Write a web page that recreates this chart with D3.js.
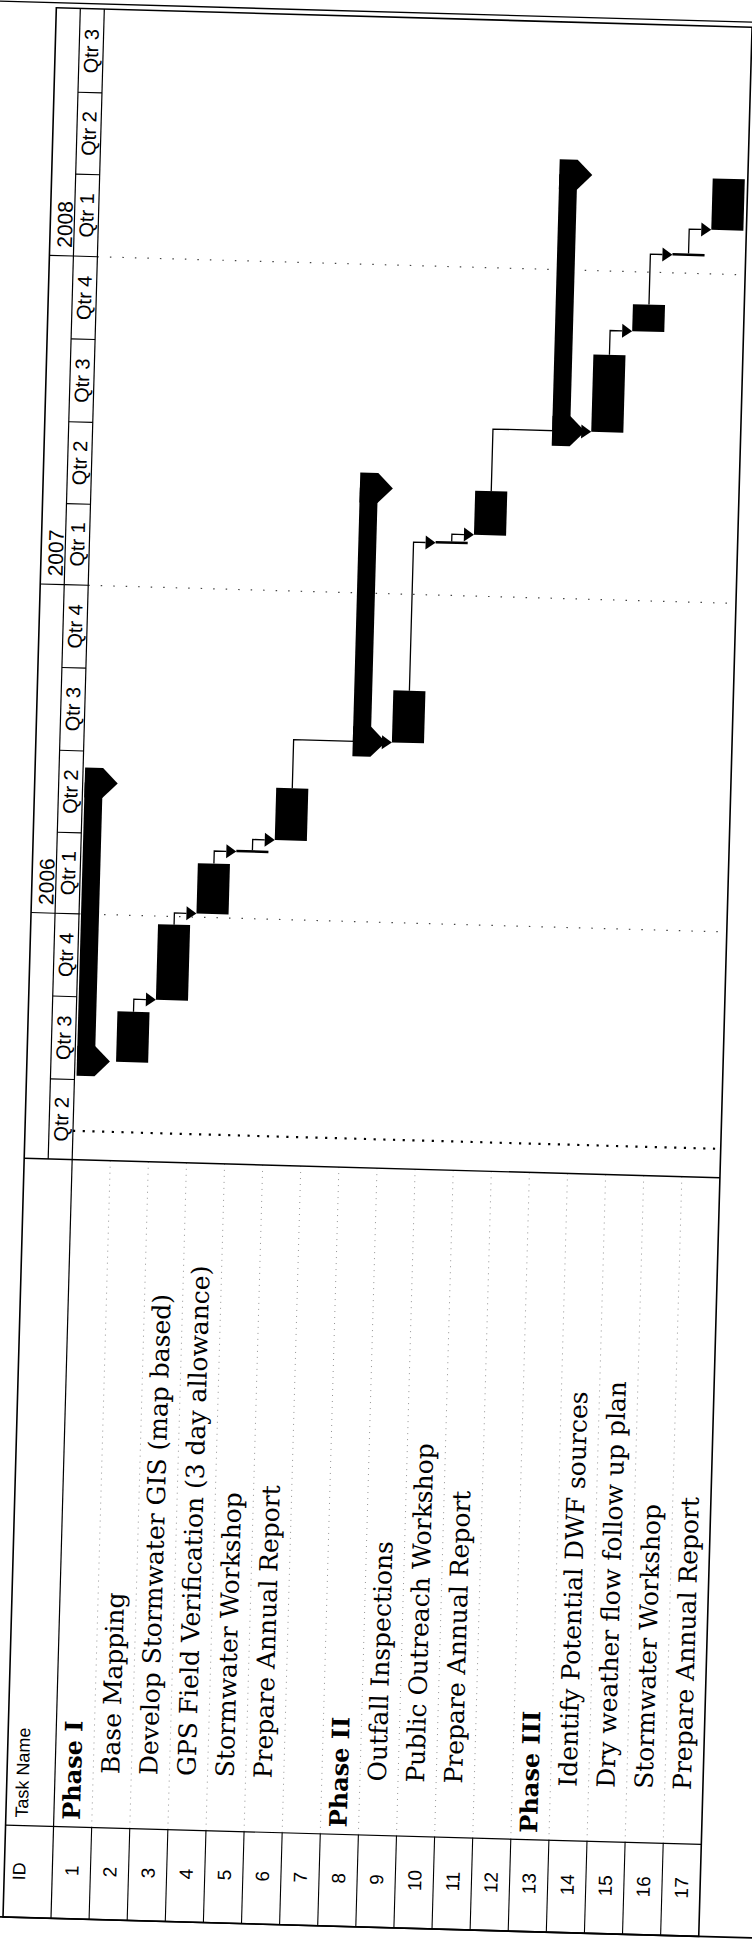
<!DOCTYPE html>
<html>
<head>
<meta charset="utf-8">
<script src="https://cdn.jsdelivr.net/npm/d3@7"></script>
<style>
  body { margin: 0; background: #fff; }
  svg { display: block; }
</style>
</head>
<body>
<div id="gantt"></div>
<script>
// ----------------------------------------------------
// Data (read off the scanned project schedule)
// ----------------------------------------------------
const viewStart = '2005-04-03';
const viewEnd = '2008-10-01';
const statusDate = '2005-05-05';

const quarterStarts = ['2005-04-01','2005-07-01','2005-10-01','2006-01-01','2006-04-01','2006-07-01','2006-10-01',
                       '2007-01-01','2007-04-01','2007-07-01','2007-10-01','2008-01-01','2008-04-01','2008-07-01'];
const quarterEnds   = ['2005-07-01','2005-10-01','2006-01-01','2006-04-01','2006-07-01','2006-10-01','2007-01-01',
                       '2007-04-01','2007-07-01','2007-10-01','2008-01-01','2008-04-01','2008-07-01','2008-10-01'];
const quarterLabels = ['Qtr 2','Qtr 3','Qtr 4','Qtr 1','Qtr 2','Qtr 3','Qtr 4',
                       'Qtr 1','Qtr 2','Qtr 3','Qtr 4','Qtr 1','Qtr 2','Qtr 3'];

const yearStarts = ['2006-01-01','2007-01-01','2008-01-01'];
const yearLabels = ['2006','2007','2008'];

const taskIds = [1,2,3,4,5,6,7,8,9,10,11,12,13,14,15,16,17];
const taskNames = [
  'Phase I', 'Base Mapping', 'Develop Stormwater GIS (map based)', 'GPS Field Verification (3 day allowance)',
  'Stormwater Workshop', 'Prepare Annual Report', '',
  'Phase II', 'Outfall Inspections', 'Public Outreach Workshop', 'Prepare Annual Report', '',
  'Phase III', 'Identify Potential DWF sources', 'Dry weather flow follow up plan', 'Stormwater Workshop',
  'Prepare Annual Report'
];
const taskKinds = ['summary','task','task','task','task','task','blank',
                   'summary','task','task','task','blank',
                   'summary','task','task','task','task'];
const taskStarts = ['2005-07-22','2005-07-22','2005-09-30','2006-01-05','2006-03-16','2006-03-30', null,
                    '2006-07-20','2006-07-20','2007-02-28','2007-03-10', null,
                    '2007-07-06','2007-07-06','2007-10-27','2008-01-21','2008-02-19'];
const taskEnds   = ['2006-05-27','2005-09-16','2005-12-23','2006-03-02','2006-03-18','2006-05-27', null,
                    '2007-04-28','2006-09-16','2007-03-02','2007-04-28', null,
                    '2008-04-16','2007-09-30','2007-11-26','2008-01-23','2008-04-16'];

// finish-to-start links [predecessor, successor]
const links = [[2,3],[3,4],[4,5],[5,6],[6,9],[9,10],[10,11],[11,14],[14,15],[15,16],[16,17]];

// ----------------------------------------------------
// Layout (the page is a slightly skewed, rotated print)
// ----------------------------------------------------
const width = 752, height = 1941;
const frameW = 696, frameH = 1910;
const hdrW = 48, yearW = 24;
const chartBottom = 1151, idTop = 1818;
const sans = '"Liberation Sans", Arial, sans-serif';
const serif = '"DejaVu Serif", "Liberation Serif", serif';

const parse = d3.timeParse('%Y-%m-%d');

const tasks = taskIds.map((id, i) => ({
  id, name: taskNames[i], kind: taskKinds[i],
  start: taskStarts[i] ? parse(taskStarts[i]) : null,
  end: taskEnds[i] ? parse(taskEnds[i]) : null
}));
const byId = new Map(tasks.map(t => [t.id, t]));

const x = d3.scaleBand().domain(taskIds).range([hdrW, frameW]).padding(0);
const y = d3.scaleTime()
  .domain([parse(viewStart), parse(viewEnd)])
  .range([chartBottom, 1]);
const yc = d => Math.max(1, Math.min(chartBottom, y(d)));
const bw = x.bandwidth();

const svg = d3.select('#gantt').append('svg')
  .attr('width', width)
  .attr('height', height);

svg.append('rect').attr('width', width).attr('height', height).attr('fill', '#fff');

const g = svg.append('g')
  .attr('transform', 'rotate(1.6 3 1917) translate(3 7)');

// ---- gridlines -------------------------------------
g.append('g')
  .attr('stroke', '#444').attr('stroke-width', 1.2).attr('stroke-dasharray', '1.5 11')
  .selectAll('line').data(yearStarts).enter().append('line')
    .attr('x1', hdrW).attr('x2', frameW)
    .attr('y1', d => y(parse(d))).attr('y2', d => y(parse(d)));

g.append('line')
  .attr('x1', hdrW).attr('x2', frameW)
  .attr('y1', y(parse(statusDate))).attr('y2', y(parse(statusDate)))
  .attr('stroke', '#000').attr('stroke-width', 2.2).attr('stroke-dasharray', '2.2 7.5');

// dotted row separators in the task name column
g.append('g')
  .attr('stroke', '#888').attr('stroke-width', 0.9).attr('stroke-dasharray', '1 5')
  .selectAll('line').data(taskIds.slice(1)).enter().append('line')
    .attr('x1', d => x(d)).attr('x2', d => x(d))
    .attr('y1', chartBottom).attr('y2', idTop);

// ---- bars ------------------------------------------
const bars = g.append('g').attr('fill', '#000');

const summary = tasks.filter(t => t.kind === 'summary');
bars.selectAll('rect.sum').data(summary).enter().append('rect')
  .attr('class', 'sum')
  .attr('x', d => x(d.id) + 2).attr('width', 18)
  .attr('y', d => y(d.end)).attr('height', d => y(d.start) - y(d.end));

const caps = [];
summary.forEach(d => { caps.push({id: d.id, t: d.start}); caps.push({id: d.id, t: d.end}); });
bars.selectAll('path.cap').data(caps).enter().append('path')
  .attr('class', 'cap')
  .attr('d', d => {
    const r = x(d.id), c = y(d.t);
    return `M${r+2},${c-15} L${r+20},${c-15} L${r+35},${c} L${r+20},${c+15} L${r+2},${c+15} Z`;
  });

const normal = tasks.filter(t => t.kind === 'task');
bars.selectAll('rect.task').data(normal).enter().append('rect')
  .attr('class', 'task')
  .attr('x', d => x(d.id) + 3).attr('width', bw - 6)
  .attr('y', d => y(d.end))
  .attr('height', d => Math.max(2.5, y(d.start) - y(d.end)));

// ---- links -----------------------------------------
const arrowL = 10, arrowH = 7;
const lk = g.append('g');
lk.selectAll('path.link').data(links).enter().append('path')
  .attr('fill', 'none').attr('stroke', '#000').attr('stroke-width', 1.3)
  .attr('d', ([p, s]) => {
    const a = byId.get(p), b = byId.get(s);
    const cx = x(p) + bw / 2;
    const ys = y(b.start);
    const tip = x(s) + 3;
    return `M${cx},${y(a.end)} V${ys} H${tip - arrowL}`;
  });
lk.selectAll('path.arrow').data(links).enter().append('path')
  .attr('fill', '#000')
  .attr('d', ([p, s]) => {
    const b = byId.get(s);
    const ys = y(b.start), tip = x(s) + 3;
    return `M${tip},${ys} L${tip - arrowL},${ys - arrowH} L${tip - arrowL},${ys + arrowH} Z`;
  });

// ---- table and timescale frame ---------------------
const frame = g.append('g').attr('stroke', '#000').attr('fill', 'none');
frame.append('rect').attr('width', frameW).attr('height', frameH).attr('stroke-width', 1.6);
frame.append('line').attr('x1', -70).attr('x2', 760).attr('y1', -5).attr('y2', -5).attr('stroke-width', 1.4);
frame.append('line').attr('x1', -20).attr('x2', 760).attr('y1', frameH).attr('y2', frameH).attr('stroke-width', 1.6);
frame.append('line').attr('x1', 0).attr('x2', frameW).attr('y1', chartBottom).attr('y2', chartBottom).attr('stroke-width', 1.4);
frame.append('line').attr('x1', 0).attr('x2', frameW).attr('y1', idTop).attr('y2', idTop).attr('stroke-width', 1.2);
frame.append('line').attr('x1', hdrW).attr('x2', hdrW).attr('y1', 0).attr('y2', frameH).attr('stroke-width', 1.2);
frame.append('line').attr('x1', yearW).attr('x2', yearW).attr('y1', 0).attr('y2', chartBottom).attr('stroke-width', 1.2);

frame.selectAll('line.q').data(quarterStarts.filter(d => y(parse(d)) < chartBottom)).enter().append('line')
  .attr('class', 'q').attr('stroke-width', 1.1)
  .attr('x1', yearW).attr('x2', hdrW)
  .attr('y1', d => y(parse(d))).attr('y2', d => y(parse(d)));
frame.selectAll('line.yr').data(yearStarts).enter().append('line')
  .attr('class', 'yr').attr('stroke-width', 1.1)
  .attr('x1', 0).attr('x2', yearW)
  .attr('y1', d => y(parse(d))).attr('y2', d => y(parse(d)));
frame.selectAll('line.id').data(taskIds.slice(1)).enter().append('line')
  .attr('class', 'id').attr('stroke-width', 1.1)
  .attr('x1', d => x(d)).attr('x2', d => x(d))
  .attr('y1', idTop).attr('y2', frameH);

// ---- text ------------------------------------------
const txt = g.append('g').attr('fill', '#000');

txt.selectAll('text.year').data(yearLabels).enter().append('text')
  .attr('transform', (d, i) => `translate(22,${y(parse(yearStarts[i])) - 8}) rotate(-90)`)
  .style('font', `21px ${sans}`)
  .text(d => d);

txt.selectAll('text.qtr').data(quarterLabels).enter().append('text')
  .attr('transform', (d, i) => {
    const mid = (yc(parse(quarterStarts[i])) + yc(parse(quarterEnds[i]))) / 2;
    return `translate(43,${mid}) rotate(-90)`;
  })
  .attr('text-anchor', 'middle')
  .style('font', `20px ${sans}`)
  .text(d => d);

txt.append('text')
  .attr('transform', `translate(21,${(idTop + frameH) / 2}) rotate(-90)`)
  .attr('text-anchor', 'middle')
  .style('font', `18px ${sans}`)
  .text('ID');
txt.append('text')
  .attr('transform', `translate(22,${idTop - 8}) rotate(-90)`)
  .style('font', `18px ${sans}`)
  .text('Task Name');

txt.selectAll('text.id').data(tasks).enter().append('text')
  .attr('transform', d => `translate(${x(d.id) + bw / 2 + 7},${(idTop + frameH) / 2 - 2}) rotate(-90)`)
  .attr('text-anchor', 'middle')
  .style('font', `19px ${sans}`)
  .text(d => d.id);

txt.selectAll('text.name').data(tasks.filter(t => t.name)).enter().append('text')
  .attr('transform', d => `translate(${x(d.id) + 26},${d.kind === 'summary' ? idTop - 7 : idTop - 54}) rotate(-90)`)
  .style('font', d => d.kind === 'summary' ? `bold 24px ${serif}` : `25px ${serif}`)
  .text(d => d.name);
</script>
</body>
</html>
